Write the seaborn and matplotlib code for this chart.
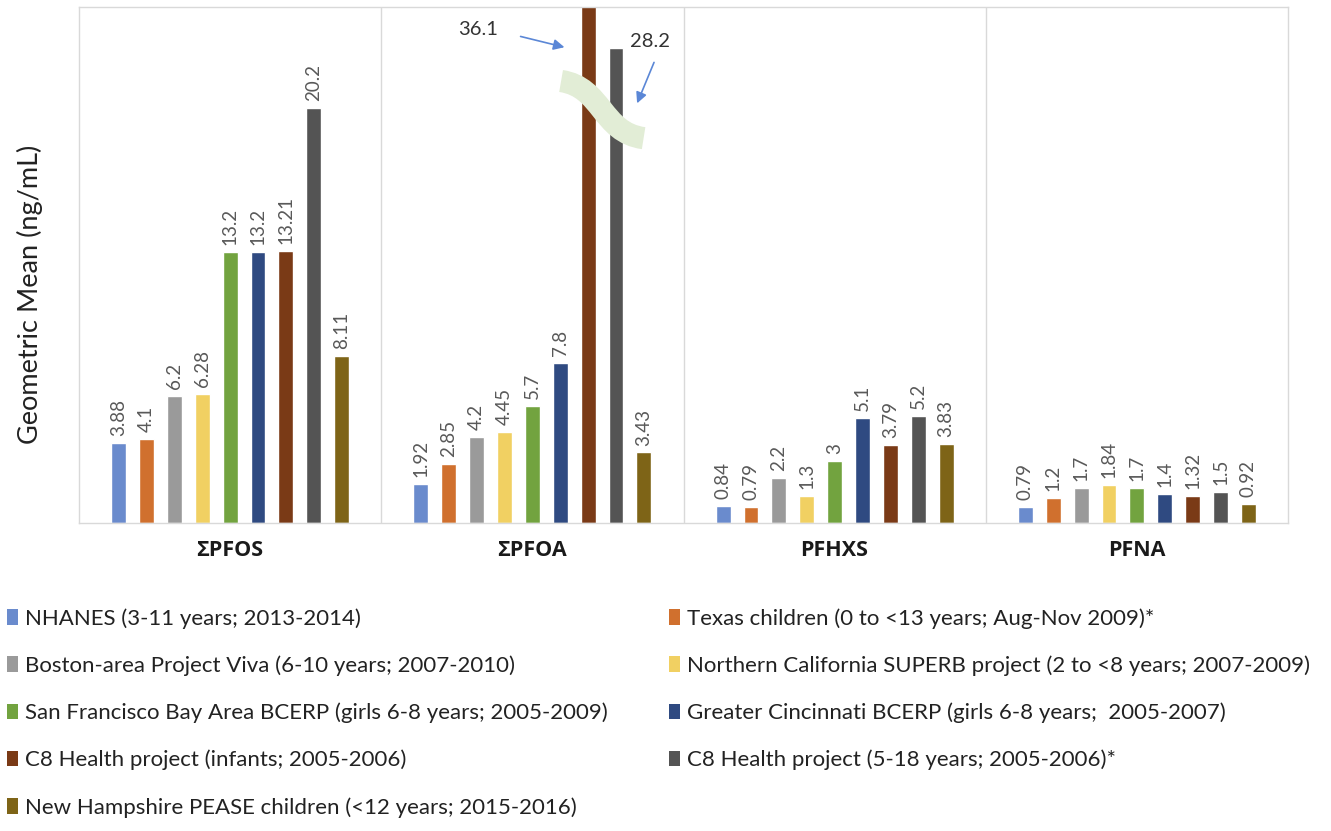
import pandas as pd
import matplotlib.pyplot as plt
import seaborn as sns
from matplotlib.patches import Patch, PathPatch
from matplotlib.path import Path

# compounds on the x axis
compounds = ['ΣPFOS', 'ΣPFOA', 'PFHXS', 'PFNA']

studies = [
    'NHANES (3-11 years; 2013-2014)',
    'Texas children (0 to <13 years; Aug-Nov 2009)*',
    'Boston-area Project Viva (6-10 years; 2007-2010)',
    'Northern California SUPERB project (2 to <8 years; 2007-2009)',
    'San Francisco Bay Area BCERP (girls 6-8 years; 2005-2009)',
    'Greater Cincinnati BCERP (girls 6-8 years;  2005-2007)',
    'C8 Health project (infants; 2005-2006)',
    'C8 Health project (5-18 years; 2005-2006)*',
    'New Hampshire PEASE children (<12 years; 2015-2016)',
]

colors = ['#6A8BCD', '#D0702E', '#9A9A9A', '#F1D062', '#72A33F',
          '#2F4A81', '#7A3A16', '#545454', '#7E6417']

# geometric means (ng/mL), one list per compound, in study order
pfos = [3.88, 4.1, 6.2, 6.28, 13.2, 13.2, 13.21, 20.2, 8.11]
pfoa = [1.92, 2.85, 4.2, 4.45, 5.7, 7.8, 36.1, 28.2, 3.43]
pfhxs = [0.84, 0.79, 2.2, 1.3, 3, 5.1, 3.79, 5.2, 3.83]
pfna = [0.79, 1.2, 1.7, 1.84, 1.7, 1.4, 1.32, 1.5, 0.92]

# the two C8 PFOA bars are drawn on a broken axis: heights as shown in the figure
pfoa_shown = [1.92, 2.85, 4.2, 4.45, 5.7, 7.8, 36.1, 23.1, 3.43]

rows = []
for comp, vals, shown in [('ΣPFOS', pfos, pfos), ('ΣPFOA', pfoa, pfoa_shown),
                          ('PFHXS', pfhxs, pfhxs), ('PFNA', pfna, pfna)]:
    for s, v, h in zip(studies, vals, shown):
        rows.append({'compound': comp, 'study': s, 'value': v, 'shown': h})
df = pd.DataFrame(rows)

sns.set_style('white')
plt.rcParams['font.family'] = ['Lato', 'DejaVu Sans']

fig = plt.figure(figsize=(13.31, 8.31), dpi=100)
ax = fig.add_axes([79 / 1331, 1 - 523 / 831, (1288 - 79) / 1331, (523 - 7) / 831])

sns.barplot(data=df, x='compound', y='shown', hue='study', order=compounds,
            hue_order=studies, palette=colors, width=0.83, gap=0.47,
            saturation=1, legend=False, ax=ax)

ax.set_ylim(0, 25.1)
ax.set_xlim(-0.5, 3.5)
ax.set_yticks([])
ax.set_xlabel('')
ax.set_ylabel('Geometric Mean (ng/mL)', fontsize=19.5, color='#222222')
ax.yaxis.set_label_coords(-0.030, 0.443)
ax.tick_params(axis='x', length=0, pad=12)
ax.set_xticks(range(len(compounds)))
ax.set_xticklabels(compounds, family=['Open Sans', 'DejaVu Sans'],
                   fontweight='bold', fontsize=15.5, color='#1a1a1a')
for sp in ax.spines.values():
    sp.set_visible(True)
    sp.set_color('#D9D9D9')
    sp.set_linewidth(1)
for xd in [0.5, 1.5, 2.5]:
    ax.axvline(xd, color='#D9D9D9', lw=1, zorder=0)

# value labels (skip the two broken PFOA bars)
for si, cont in enumerate(ax.containers):
    for ci, bar in enumerate(cont):
        v = df[(df.compound == compounds[ci]) & (df.study == studies[si])]['value'].iloc[0]
        if compounds[ci] == 'ΣPFOA' and si in (6, 7):
            continue
        ax.annotate(f'{v:g}', (bar.get_x() + bar.get_width() / 2, bar.get_height()),
                    xytext=(0, 5), textcoords='offset points', rotation=90,
                    ha='center', va='bottom', fontsize=13.5, color='#595959')

# axis-break marker and arrows for the broken bars
verts = [(1.095, 21.5), (1.232, 21.2), (1.228, 19.0), (1.368, 18.72)]
band = Path(verts, [Path.MOVETO, Path.CURVE4, Path.CURVE4, Path.CURVE4])
ax.add_patch(PathPatch(band, facecolor='none', edgecolor='#E2EDD6', lw=16,
                       capstyle='butt', zorder=5))

arrow_kw = dict(arrowstyle='-|>', color='#5B87D6', lw=1.2, mutation_scale=16)
ax.annotate('', xy=(1.115, 23.11), xytext=(0.952, 23.7), arrowprops=arrow_kw, zorder=6)
ax.annotate('', xy=(1.343, 20.29), xytext=(1.406, 22.53), arrowprops=arrow_kw, zorder=6)
ax.text(0.82, 24.0, f'{pfoa[6]:g}', ha='center', va='center', fontsize=14.5, color='#333333')
ax.text(1.39, 23.4, f'{pfoa[7]:g}', ha='center', va='center', fontsize=14.5, color='#333333')

# legend laid out in two columns, row by row
handles = [Patch(facecolor=c, edgecolor='none') for c in colors]
leg_kw = dict(frameon=False, fontsize=16, handlelength=0.5, handleheight=0.7,
              handletextpad=0.3, labelspacing=1.2, borderpad=0, borderaxespad=0,
              labelcolor='#222222', loc='upper left')
left = fig.legend(handles[0::2], studies[0::2], bbox_to_anchor=(7 / 1331, 1 - 608 / 831), **leg_kw)
right = fig.legend(handles[1::2], studies[1::2], bbox_to_anchor=(669 / 1331, 1 - 608 / 831), **leg_kw)

fig.savefig('out.png', dpi=100, facecolor='white')
